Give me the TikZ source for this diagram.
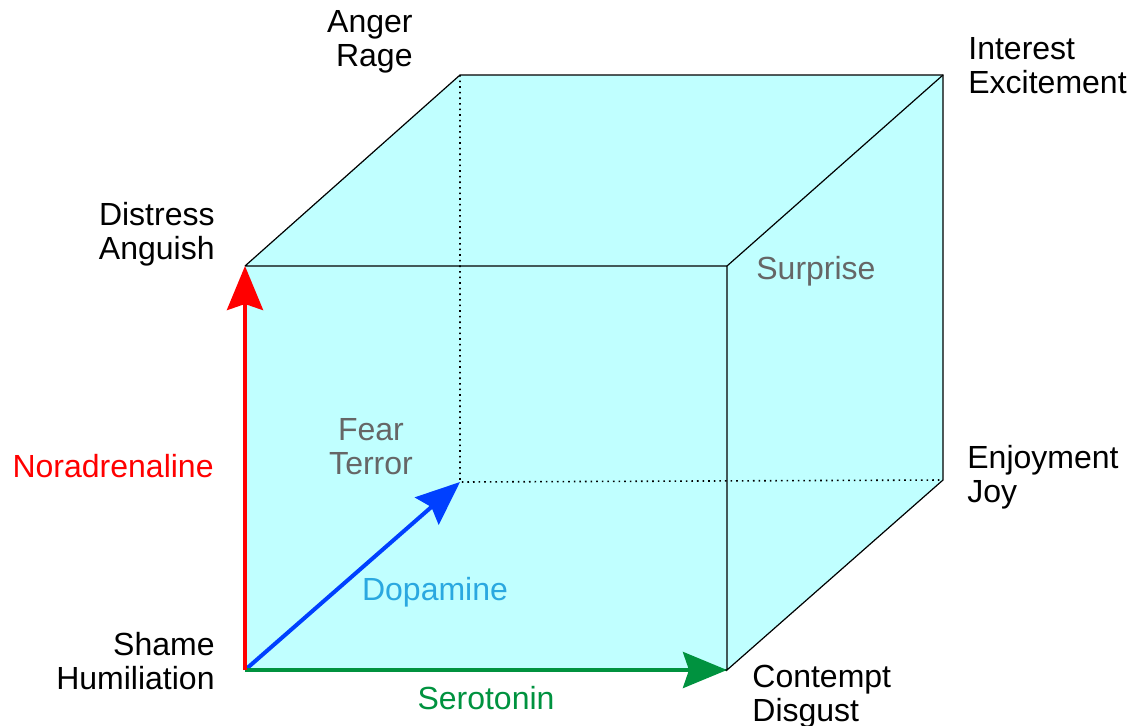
\documentclass[tikz,border=0pt]{standalone}
\usepackage{fontspec}
\setmainfont{Liberation Sans}
\usetikzlibrary{arrows.meta}
\definecolor{cubeFill}{RGB}{192,255,255}
\definecolor{noraRed}{RGB}{255,0,0}
\definecolor{seroGreen}{RGB}{0,146,63}
\definecolor{dopaBlue}{RGB}{0,64,255}
\definecolor{dopaText}{RGB}{42,168,224}
\definecolor{softGray}{RGB}{102,102,102}
\tikzset{
  edge/.style={draw=black, line width=0.6pt},
  hidden/.style={draw=black, line width=0.8pt, dotted},
  axis/.style={line width=2pt, -{Stealth[length=22pt, width=18pt, inset=3pt]}},
  lbl/.style={inner sep=0pt, font=\fontsize{16}{17}\selectfont},
  corner/.style={lbl, align=left, anchor=west},
  cornerr/.style={lbl, align=right, anchor=east},
  inner/.style={lbl, align=center, text=softGray}
}
\begin{document}
\begin{tikzpicture}[x=0.5pt, y=-0.5pt]
\useasboundingbox (0,0) rectangle (1132,725);
% cube corners (front face, then back face)
\coordinate (fbl) at (245,670);
\coordinate (ftl) at (245,266);
\coordinate (ftr) at (727,266);
\coordinate (fbr) at (727,670);
\coordinate (bbl) at (460,482);
\coordinate (btl) at (460,75);
\coordinate (btr) at (943,75);
\coordinate (bbr) at (943,480);
\fill[cubeFill] (fbl) -- (ftl) -- (btl) -- (btr) -- (bbr) -- (fbr) -- cycle;
\draw[hidden] (btl) -- (bbl) -- (bbr);
\draw[edge] (ftl) -- (btl) -- (btr) -- (bbr) -- (fbr) -- (ftr) -- (ftl);
\draw[edge] (ftr) -- (btr);
\draw[edge] (fbl) -- (fbr);
\draw[axis, draw=dopaBlue, fill=dopaBlue] (fbl) -- (bbl);
\draw[axis, draw=seroGreen, fill=seroGreen] (fbl) -- (fbr);
\draw[axis, draw=noraRed, fill=noraRed] (fbl) -- (ftl);
% labels
\node[cornerr] (anger) at (413,42) {Anger\\Rage};
\node[corner] (interest) at (968,66) {Interest\\Excitement};
\node[cornerr] (distress) at (215,234) {Distress\\Anguish};
\node[inner, anchor=west] (surprise) at (756,271) {Surprise};
\node[inner] (fear) at (371,447) {Fear\\Terror};
\node[corner] (enjoy) at (967,477) {Enjoyment\\Joy};
\node[cornerr, text=noraRed] (nora) at (214,466) {Noradrenaline};
\node[lbl, text=dopaText] (dopa) at (435,592) {Dopamine};
\node[cornerr] (shame) at (215,661) {Shame\\Humiliation};
\node[lbl, text=seroGreen] (sero) at (486,698) {Serotonin};
\node[corner] (contempt) at (752,697) {Contempt\\Disgust};
\end{tikzpicture}
\end{document}
